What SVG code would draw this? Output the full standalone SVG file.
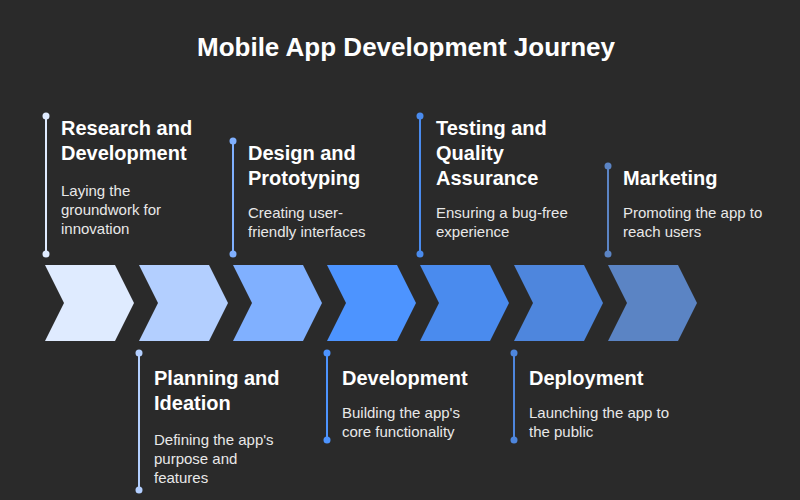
<svg xmlns="http://www.w3.org/2000/svg" width="800" height="500" viewBox="0 0 800 500">
<style>
.t{font-family:"Liberation Sans",Arial,sans-serif;font-weight:bold;font-size:20px;fill:#fff}
.d{font-family:"Liberation Sans",Arial,sans-serif;font-size:15px;fill:#e8e8e8}
.ln{stroke-width:2}
</style>
<defs><path id="ch" d="M0,0 H70 L89,38 L70,76 H0 L19,38 Z"/></defs>
<rect width="800" height="500" fill="#2a2a2a"/>
<text x="406" y="56" text-anchor="middle" font-family="Liberation Sans,Arial,sans-serif" font-weight="bold" font-size="26" fill="#fff">Mobile App Development Journey</text>
<g id="chevrons">
<use href="#ch" x="45" y="265" fill="#DFEBFF"/>
<use href="#ch" x="139" y="265" fill="#B3CFFF"/>
<use href="#ch" x="233" y="265" fill="#80B0FF"/>
<use href="#ch" x="327" y="265" fill="#4D94FF"/>
<use href="#ch" x="420" y="265" fill="#4A8BEE"/>
<use href="#ch" x="514" y="265" fill="#4E86DD"/>
<use href="#ch" x="608" y="265" fill="#5B84C4"/>
</g>
<g id="connectors">
<line class="ln" x1="46" y1="116" x2="46" y2="254" stroke="#DFEBFF"/><circle cx="46" cy="116" r="3.5" fill="#DFEBFF"/><circle cx="46" cy="254" r="3.5" fill="#DFEBFF"/>
<line class="ln" x1="139" y1="353" x2="139" y2="490" stroke="#B3CFFF"/><circle cx="139" cy="353" r="3.5" fill="#B3CFFF"/><circle cx="139" cy="490" r="3.5" fill="#B3CFFF"/>
<line class="ln" x1="233" y1="141" x2="233" y2="254" stroke="#80B0FF"/><circle cx="233" cy="141" r="3.5" fill="#80B0FF"/><circle cx="233" cy="254" r="3.5" fill="#80B0FF"/>
<line class="ln" x1="327" y1="353" x2="327" y2="440" stroke="#4D94FF"/><circle cx="327" cy="353" r="3.5" fill="#4D94FF"/><circle cx="327" cy="440" r="3.5" fill="#4D94FF"/>
<line class="ln" x1="420" y1="116" x2="420" y2="254" stroke="#4A8BEE"/><circle cx="420" cy="116" r="3.5" fill="#4A8BEE"/><circle cx="420" cy="254" r="3.5" fill="#4A8BEE"/>
<line class="ln" x1="514" y1="353" x2="514" y2="440" stroke="#4E86DD"/><circle cx="514" cy="353" r="3.5" fill="#4E86DD"/><circle cx="514" cy="440" r="3.5" fill="#4E86DD"/>
<line class="ln" x1="608" y1="166" x2="608" y2="254" stroke="#5B84C4"/><circle cx="608" cy="166" r="3.5" fill="#5B84C4"/><circle cx="608" cy="254" r="3.5" fill="#5B84C4"/>
</g>
<g id="n1"><text class="t" x="61" y="135">Research and</text><text class="t" x="61" y="160">Development</text><text class="d" x="61" y="196">Laying the</text><text class="d" x="61" y="215">groundwork for</text><text class="d" x="61" y="234">innovation</text></g>
<g id="n2"><text class="t" x="154" y="385">Planning and</text><text class="t" x="154" y="410">Ideation</text><text class="d" x="154" y="445">Defining the app's</text><text class="d" x="154" y="464">purpose and</text><text class="d" x="154" y="483">features</text></g>
<g id="n3"><text class="t" x="248" y="160">Design and</text><text class="t" x="248" y="185">Prototyping</text><text class="d" x="248" y="218">Creating user-</text><text class="d" x="248" y="237">friendly interfaces</text></g>
<g id="n4"><text class="t" x="342" y="385">Development</text><text class="d" x="342" y="418">Building the app's</text><text class="d" x="342" y="437">core functionality</text></g>
<g id="n5"><text class="t" x="436" y="135">Testing and</text><text class="t" x="436" y="160">Quality</text><text class="t" x="436" y="185">Assurance</text><text class="d" x="436" y="218">Ensuring a bug-free</text><text class="d" x="436" y="237">experience</text></g>
<g id="n6"><text class="t" x="529" y="385">Deployment</text><text class="d" x="529" y="418">Launching the app to</text><text class="d" x="529" y="437">the public</text></g>
<g id="n7"><text class="t" x="623" y="185">Marketing</text><text class="d" x="623" y="218">Promoting the app to</text><text class="d" x="623" y="237">reach users</text></g>
</svg>
